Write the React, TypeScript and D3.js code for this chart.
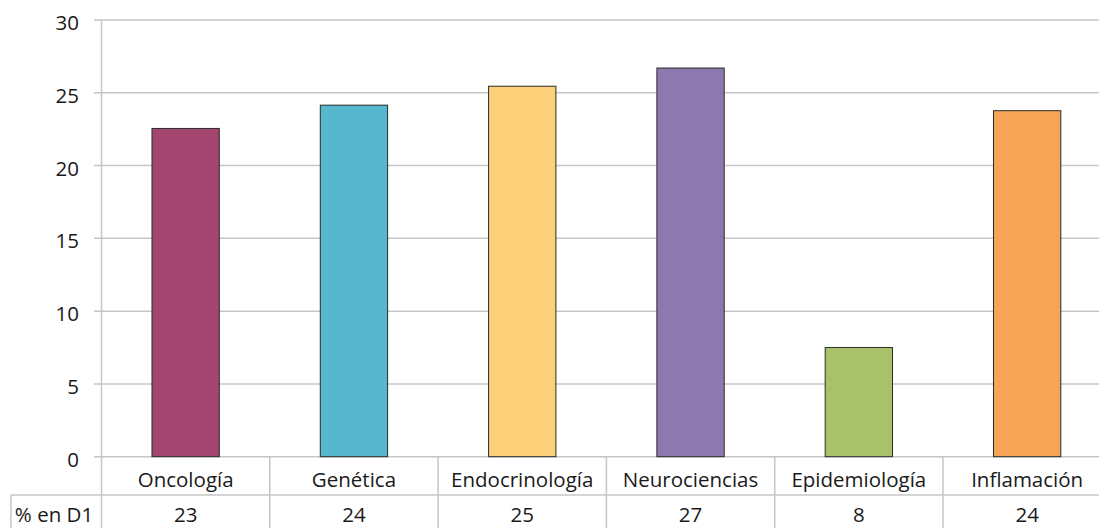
import React from "react";
import * as d3 from "d3";

const categories = ["Oncología", "Genética", "Endocrinología", "Neurociencias", "Epidemiología", "Inflamación"];
const values = [22.55, 24.15, 25.45, 26.7, 7.5, 23.77];
const tableLabels = ["23", "24", "25", "27", "8", "24"];
const rowLabel = "% en D1";
const colors = ["#A3456E", "#56B7CF", "#FDD07A", "#8E78B0", "#A9C26A", "#F6A557"];
const yTicks = [0, 5, 10, 15, 20, 25, 30];

const W = 1099;
const H = 528;
const left = 101.5;
const step = 168.3;
const top = 20;
const bottom = 456.7;
const font = "'Open Sans', Lato, sans-serif";
const fs = 20.5;

export default function App() {
  const x = d3
    .scaleBand<string>()
    .domain(categories)
    .range([left, left + step * categories.length])
    .paddingInner(0.6)
    .paddingOuter(0.3);
  const y = d3.scaleLinear().domain([0, 30]).range([bottom, top]);
  const grid = "#C6C6C6";
  const rowY = 495;
  return (
    <svg width={W} height={H} style={{ position: "fixed", left: 0, top: 0, background: "#fff" }}>
      {yTicks.map((t) => (
        <g key={t}>
          <line x1={94} x2={W} y1={y(t)} y2={y(t)} stroke={grid} strokeWidth={1.5} />
          <text x={79} y={y(t) + 10} textAnchor="end" fontFamily={font} fontSize={fs} fill="#1a1a1a">
            {t}
          </text>
        </g>
      ))}
      <line x1={left} x2={left} y1={top} y2={H} stroke={grid} strokeWidth={1.5} />
      {categories.map((c, i) => (
        <rect
          key={c}
          x={x(c)}
          y={y(values[i])}
          width={x.bandwidth()}
          height={y(0) - y(values[i])}
          fill={colors[i]}
          stroke="#2a2a2a"
          strokeWidth={1}
        />
      ))}
      {/* data table */}
      <line x1={11} x2={W} y1={rowY} y2={rowY} stroke={grid} strokeWidth={1.5} />
      <line x1={11} x2={11} y1={rowY} y2={H} stroke={grid} strokeWidth={1.5} />
      {categories.map((c, i) => {
        const x0 = left + step * i;
        const cx = x0 + step / 2;
        return (
          <g key={c}>
            <line x1={x0 + step} x2={x0 + step} y1={bottom} y2={H} stroke={grid} strokeWidth={1.5} />
            <text x={cx} y={486.5} textAnchor="middle" fontFamily={font} fontSize={fs} fill="#1a1a1a">
              {c}
            </text>
            <text x={cx} y={522} textAnchor="middle" fontFamily={font} fontSize={fs} fill="#1a1a1a">
              {tableLabels[i]}
            </text>
          </g>
        );
      })}
      <text x={54} y={522} textAnchor="middle" fontFamily={font} fontSize={fs} fill="#1a1a1a">
        {rowLabel}
      </text>
    </svg>
  );
}
